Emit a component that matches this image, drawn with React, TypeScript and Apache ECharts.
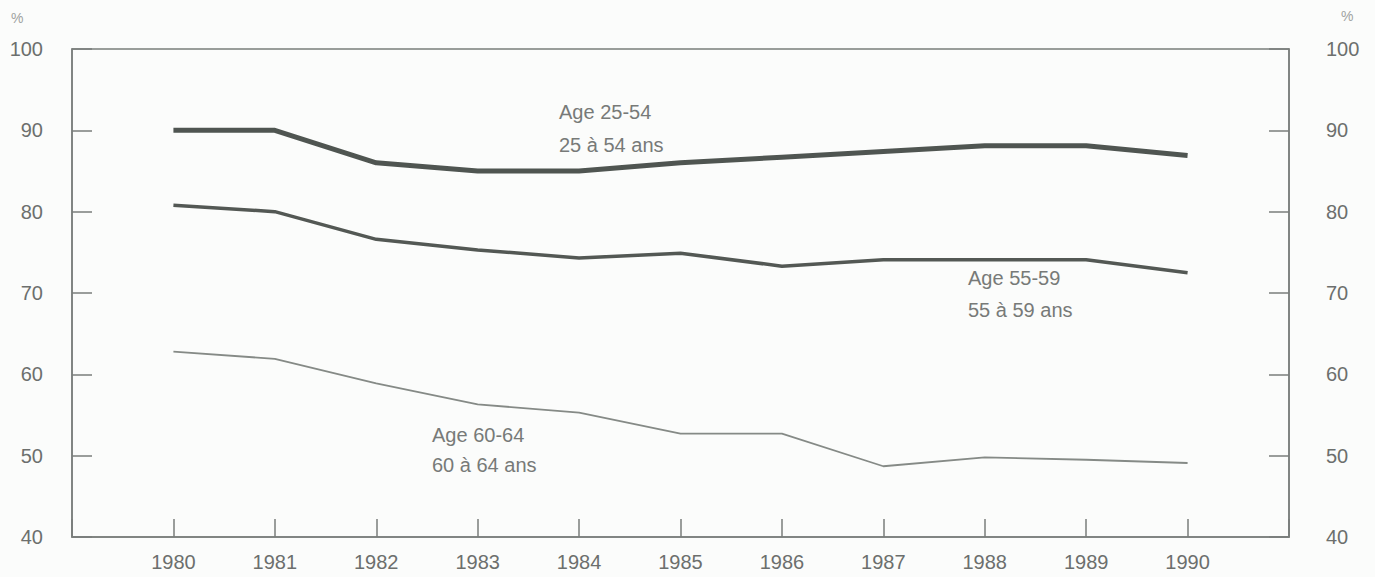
import React, { useEffect, useRef } from "react";
import * as echarts from "echarts";

const years = [1980, 1981, 1982, 1983, 1984, 1985, 1986, 1987, 1988, 1989, 1990];
const age2554 = [90.0, 90.0, 86.0, 85.0, 85.0, 86.0, 86.7, 87.4, 88.1, 88.1, 86.9];
const age5559 = [80.8, 80.0, 76.6, 75.3, 74.3, 74.9, 73.3, 74.1, 74.1, 74.1, 72.5];
const age6064 = [62.8, 61.9, 58.9, 56.3, 55.3, 52.7, 52.7, 48.7, 49.8, 49.5, 49.1];
const yTicks = [40, 50, 60, 70, 80, 90, 100];

const FONT = "'Liberation Sans', Arial, sans-serif";
const AXIS = "#7a7e7b";
const LABEL = "#6c6f6d";
const ANNOT = "#777a78";

export default function App() {
  const ref = useRef<HTMLDivElement>(null);
  useEffect(() => {
    const chart = echarts.init(ref.current!, undefined, { renderer: "svg" });
    const pair = (xs: number[], ys: number[]) => xs.map((x, i) => [x, ys[i]]);
    const yAxisCommon = {
      type: "value",
      min: yTicks[0],
      max: yTicks[yTicks.length - 1],
      interval: 10,
      axisLine: { show: true, lineStyle: { color: AXIS, width: 1.5 } },
      axisTick: { show: true, inside: true, length: 20, lineStyle: { color: AXIS, width: 1.5 } },
      splitLine: { show: false },
    };
    const textEl = (x: number, y: number, t: string) => ({
      type: "text",
      x,
      y,
      style: { text: t, fill: ANNOT, font: `20px ${FONT}`, textVerticalAlign: "middle" },
    });
    chart.setOption({
      animation: false,
      backgroundColor: "#fbfcfb",
      grid: {
        left: 72,
        right: 86,
        top: 49,
        bottom: 40,
        show: true,
        borderColor: AXIS,
        borderWidth: 1.5,
        backgroundColor: "transparent",
      },
      xAxis: {
        type: "value",
        min: 1979,
        max: 1991,
        interval: 1,
        axisLine: { show: true, lineStyle: { color: AXIS, width: 1.5 } },
        axisTick: { show: true, inside: true, length: 18, lineStyle: { color: AXIS, width: 1.5 } },
        splitLine: { show: false },
        axisLabel: {
          color: LABEL,
          fontFamily: FONT,
          fontSize: 20,
          margin: 15,
          formatter: (v: number) => (years.includes(v) ? String(v) : ""),
        },
      },
      yAxis: [
        {
          ...yAxisCommon,
          position: "left",
          axisLabel: { color: LABEL, fontFamily: FONT, fontSize: 20, margin: 29 },
        },
        {
          ...yAxisCommon,
          position: "right",
          axisLabel: { color: LABEL, fontFamily: FONT, fontSize: 20, margin: 37 },
        },
      ],
      graphic: [
        { type: "text", x: 11, y: 18, style: { text: "%", fill: "#a0a3a1", font: `14px ${FONT}`, textVerticalAlign: "middle" } },
        { type: "text", x: 1341, y: 16, style: { text: "%", fill: "#a0a3a1", font: `14px ${FONT}`, textVerticalAlign: "middle" } },
        textEl(559, 112, "Age 25-54"),
        textEl(559, 145, "25 à 54 ans"),
        textEl(968, 278, "Age 55-59"),
        textEl(968, 310, "55 à 59 ans"),
        textEl(432, 435, "Age 60-64"),
        textEl(432, 465, "60 à 64 ans"),
      ],
      series: [
        {
          name: "Age 25-54",
          type: "line",
          data: pair(years, age2554),
          symbol: "none",
          lineStyle: { color: "#4f5551", width: 5 },
        },
        {
          name: "Age 55-59",
          type: "line",
          data: pair(years, age5559),
          symbol: "none",
          lineStyle: { color: "#535854", width: 3.5 },
        },
        {
          name: "Age 60-64",
          type: "line",
          data: pair(years, age6064),
          symbol: "none",
          lineStyle: { color: "#858a86", width: 1.8 },
        },
      ],
    });
    return () => chart.dispose();
  }, []);
  return (
    <div
      ref={ref}
      style={{ position: "absolute", left: 0, top: 0, width: 1375, height: 577 }}
    />
  );
}
